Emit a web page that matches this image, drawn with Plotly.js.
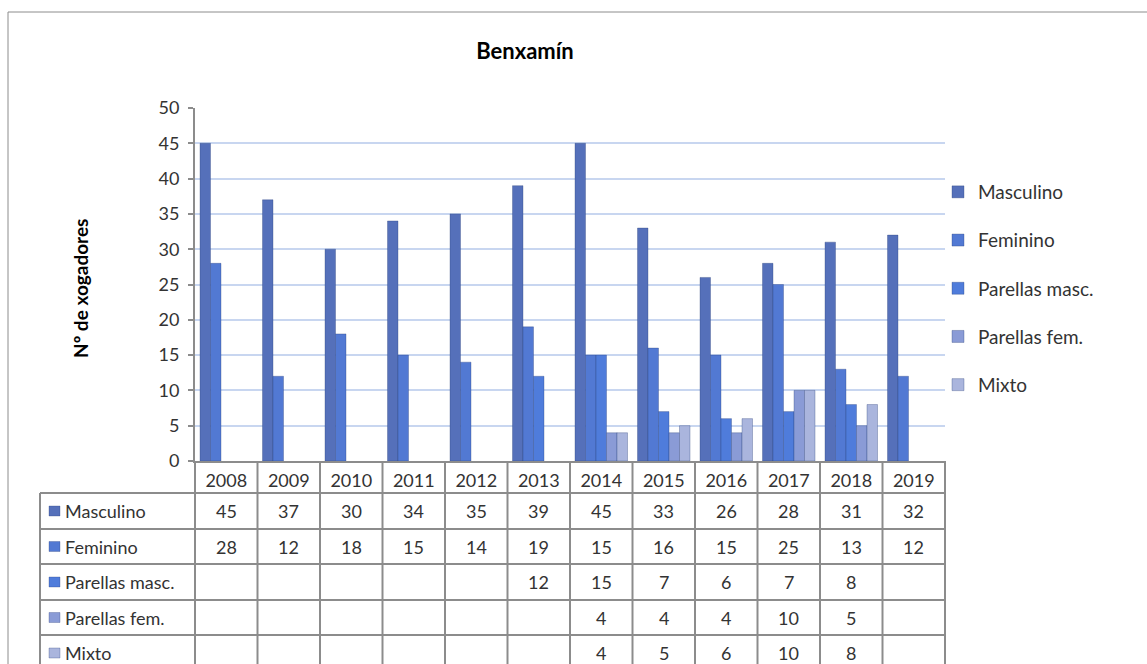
<!DOCTYPE html>
<html>
<head>
<meta charset="utf-8">
<script src="https://cdn.plot.ly/plotly-3.0.1.min.js"></script>
<style>html,body{margin:0;padding:0;background:#fff;}#chart{width:1147px;height:664px;}</style>
</head>
<body>
<div id="chart"></div>
<script>
const years = ['2008','2009','2010','2011','2012','2013','2014','2015','2016','2017','2018','2019'];
const seriesNames = ['Masculino','Feminino','Parellas masc.','Parellas fem.','Mixto'];
const masculino    = [45,37,30,34,35,39,45,33,26,28,31,32];
const feminino     = [28,12,18,15,14,19,15,16,15,25,13,12];
const parellasMasc = [null,null,null,null,null,12,15,7,6,7,8,null];
const parellasFem  = [null,null,null,null,null,null,4,4,4,10,5,null];
const mixto        = [null,null,null,null,null,null,4,5,6,10,8,null];
const seriesValues = [masculino, feminino, parellasMasc, parellasFem, mixto];
const colors = ['#5570ba','#5279d3','#4f7cdb','#8a9bd6','#aab5dd'];

const FONT = 'Lato, "Open Sans", sans-serif';
const W = 1147, H = 664;
const L = 195, R = 945, T = 108, B = 461;
const px = v => (v - L) / (R - L);
const py = v => (B - v) / (B - T);

const traces = seriesNames.map((name, i) => ({
  type: 'bar', name: name, x: years, y: seriesValues[i],
  legendgroup: 'g' + i,
  marker: {color: colors[i], line: {color: 'rgba(40,60,120,0.55)', width: 0.6}},
  hoverinfo: 'x+y+name'
}));

const gridC = '#8c8c8c';
const shapes = [];
const annotations = [];
const rowEdges = [493, 529, 564, 600, 635, 671];
const tableLeft = 40;
rowEdges.forEach(y => shapes.push({type:'line', xref:'paper', yref:'paper', x0:px(tableLeft), x1:px(R), y0:py(y), y1:py(y), line:{color:gridC, width:2}}));
shapes.push({type:'line', xref:'paper', yref:'paper', x0:px(tableLeft), x1:px(tableLeft), y0:py(493), y1:py(671), line:{color:gridC, width:2}});
for (let k = 0; k <= years.length; k++) {
  const xx = L + k * (R - L) / years.length;
  shapes.push({type:'line', xref:'paper', yref:'paper', x0:px(xx), x1:px(xx), y0:py(B), y1:py(671), line:{color:gridC, width:2}});
}
seriesNames.forEach((name, i) => {
  const yc = (rowEdges[i] + rowEdges[i+1]) / 2;
  shapes.push({type:'rect', xref:'paper', yref:'paper', x0:px(49), x1:px(60), y0:py(yc+5), y1:py(yc-5), fillcolor:colors[i], line:{color:'rgba(40,60,120,0.6)', width:0.5}});
  annotations.push({xref:'paper', yref:'paper', x:px(63), y:py(yc), xanchor:'left', yanchor:'middle', text:name, showarrow:false, font:{family:FONT, size:18, color:'#333'}});
  seriesValues[i].forEach((v, j) => {
    if (v === null) return;
    annotations.push({xref:'x', yref:'paper', x:j, y:py(yc), xanchor:'center', yanchor:'middle', text:String(v), showarrow:false, font:{family:FONT, size:18, color:'#333'}});
  });
});
shapes.push({type:'rect', xref:'paper', yref:'paper', x0:px(8), x1:px(1160), y0:py(12), y1:py(680), line:{color:'#8c8c8c', width:1}, fillcolor:'rgba(0,0,0,0)'});
annotations.push({xref:'paper', yref:'paper', x:px(80), y:py(289), xanchor:'center', yanchor:'middle', textangle:-90, text:'<b>Nº de xogadores</b>', showarrow:false, font:{family:FONT, size:19, color:'#000'}});

const layout = {
  width: W, height: H,
  margin: {l: L, r: W - R, t: T, b: H - B, pad: 0},
  paper_bgcolor: '#fff', plot_bgcolor: '#fff',
  title: {text: '<b>Benxamín</b>', x: px(525), xref: 'paper', xanchor: 'center', y: 1 - 51/H, yanchor: 'middle', font: {family: FONT, size: 22, color: '#000'}},
  barmode: 'group', bargap: 0.16, bargroupgap: 0,
  showlegend: true,
  legend: {x: px(938), y: py(173), xanchor: 'left', yanchor: 'top', font: {family: FONT, size: 19, color: '#333'}, tracegroupgap: 20.5, bgcolor: 'rgba(0,0,0,0)', traceorder: 'grouped'},
  xaxis: {type: 'category', range: [-0.5, years.length - 0.5], autorange: false, showgrid: false, showline: true, linecolor: gridC, linewidth: 2, ticks: '', tickfont: {family: FONT, size: 18, color: '#333'}, ticklabelstandoff: 2, fixedrange: true},
  yaxis: {range: [0, 50], autorange: false, dtick: 5, tick0: 0, showgrid: true, gridcolor: '#c8d6f0', gridwidth: 2, zeroline: false, showline: true, linecolor: gridC, linewidth: 2, ticks: 'outside', ticklen: 5, tickwidth: 2, tickcolor: gridC, tickfont: {family: FONT, size: 18, color: '#333'}, ticklabelstandoff: 5, fixedrange: true},
  shapes: shapes,
  annotations: annotations
};
Plotly.newPlot('chart', traces, layout, {displayModeBar: false, staticPlot: true});
</script>
</body>
</html>
